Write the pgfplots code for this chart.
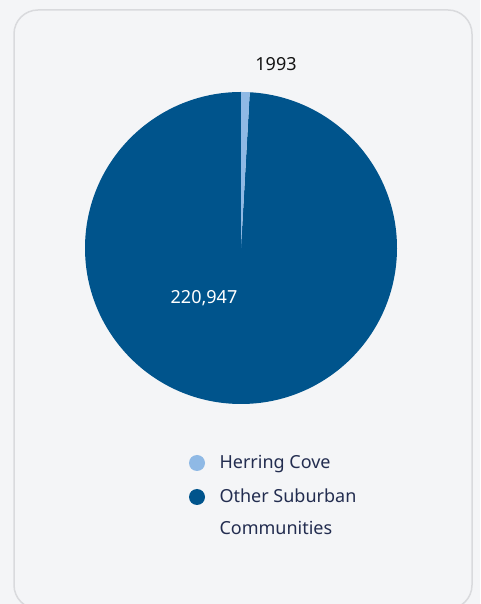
\documentclass[border=0pt]{standalone}
\usepackage{pgfplots}
\usepackage{pgfplotstable}
\pgfplotsset{compat=1.18}
\usepackage{fontspec}
\setmainfont{Noto Sans}
\definecolor{bg}{RGB}{244,245,247}
\definecolor{cardborder}{RGB}{217,218,221}
\definecolor{darkslice}{RGB}{0,84,140}
\definecolor{lightslice}{RGB}{143,185,229}
\definecolor{legtext}{RGB}{35,45,80}
\definecolor{lbl}{RGB}{20,20,20}

\pgfplotstableread[col sep=comma]{
name,value
Herring Cove,1993
Other Suburban Communities,220947
}\piedata

\begin{document}
\begin{tikzpicture}
\clip (0,0) rectangle (480pt,604pt);
\pgfplotstablegetelem{0}{value}\of\piedata \edef\va{\pgfplotsretval}
\pgfplotstablegetelem{1}{value}\of\piedata \edef\vb{\pgfplotsretval}
\begingroup
\pgfkeys{/pgf/fpu=true,/pgf/fpu/output format=fixed}
\pgfmathparse{90-360*\va/(\va+\vb)}
\global\let\endA\pgfmathresult
\endgroup
\begin{axis}[
  x=1pt, y=1pt,
  xmin=0, xmax=480, ymin=0, ymax=604,
  scale only axis, hide axis, clip=false,
  at={(0,0)}, anchor=origin,
]
% page background
\fill[bg] (axis cs:0,0) rectangle (axis cs:480,604);
% card
\draw[cardborder, line width=1.5pt, fill=bg, rounded corners=24pt]
  (axis cs:14,-5) rectangle (axis cs:472,594);
% pie slices
\fill[darkslice] (axis cs:241,356) -- +(\endA:156pt) arc[start angle=\endA, end angle=-270, radius=156pt] -- cycle;
\fill[lightslice] (axis cs:241,356) -- +(90:156pt) arc[start angle=90, end angle=\endA, radius=156pt] -- cycle;
% labels
\node[font=\fontsize{18}{20}\selectfont, text=lbl] at (axis cs:276,540) {1993};
\node[font=\fontsize{18}{20}\selectfont, text=white] at (axis cs:204,306) {220,947};
% legend
\fill[lightslice] (axis cs:197,141) circle[radius=8pt];
\fill[darkslice] (axis cs:197,107) circle[radius=8pt];
\node[anchor=base west, font=\fontsize{18}{20}\selectfont, text=legtext] at (axis cs:216,135) {Herring Cove};
\node[anchor=base west, font=\fontsize{18}{20}\selectfont, text=legtext] at (axis cs:216,101) {Other Suburban};
\node[anchor=base west, font=\fontsize{18}{20}\selectfont, text=legtext] at (axis cs:216,69) {Communities};
\end{axis}
\end{tikzpicture}
\end{document}
